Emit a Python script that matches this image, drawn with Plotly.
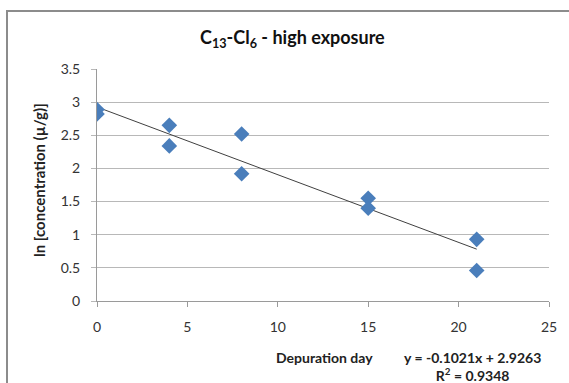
import plotly.graph_objects as go

# Depuration data: day vs ln concentration, two replicates per day
days = [0, 0, 4, 4, 8, 8, 15, 15, 21, 21]
ln_conc = [2.89, 2.82, 2.65, 2.34, 2.52, 1.92, 1.55, 1.40, 0.93, 0.46]

# Linear trendline reported on the chart
slope = -0.1021
intercept = 2.9263
r_squared = 0.9348
fit_days = [0, 21]
fit_vals = [intercept + slope * d for d in fit_days]

x_ticks = [0, 5, 10, 15, 20, 25]
y_ticks = [0, 0.5, 1, 1.5, 2, 2.5, 3, 3.5]
y_tick_text = ["0", "0.5", "1", "1.5", "2", "2.5", "3", "3.5"]

W, H = 569, 383
L, R, T, B = 97, 20, 69, 82
pw, ph = W - L - R, H - T - B

def px(x):
    return (x - L) / pw

def py(y):
    return (H - B - y) / ph

font_family = "Lato, 'Open Sans', Arial, sans-serif"

fig = go.Figure()
fig.add_trace(go.Scatter(
    x=fit_days, y=fit_vals, mode="lines",
    line=dict(color="#404040", width=1), showlegend=False, hoverinfo="skip"))
fig.add_trace(go.Scatter(
    x=days, y=ln_conc, mode="markers",
    marker=dict(symbol="diamond", size=12, color="#4A7EBB", line=dict(width=0)),
    showlegend=False))

def note(text, x, y, size=14, angle=0, color="#222222"):
    return dict(text=text, xref="paper", yref="paper", x=px(x), y=py(y),
                xanchor="center", yanchor="middle", textangle=angle,
                showarrow=False, font=dict(size=size, color=color))

eq_text = (f"<b>y = {slope:.4f}x + {intercept:.4f}</b><br>"
           f"<b>R<sup>2</sup> = {r_squared:.4f}</b>")

fig.update_layout(
    width=W, height=H,
    margin=dict(l=L, r=R, t=T, b=B),
    paper_bgcolor="white", plot_bgcolor="white",
    font=dict(family=font_family, size=14, color="#333333"),
    xaxis=dict(range=[0, 25], tickvals=x_ticks, showgrid=False, zeroline=False,
               showline=True, linecolor="#9a9a9a", linewidth=1,
               ticks="outside", ticklen=5, tickcolor="#9a9a9a",
               ticklabelstandoff=8, tickfont=dict(size=14, color="#333333")),
    yaxis=dict(range=[0, 3.5], tickvals=y_ticks, ticktext=y_tick_text,
               showgrid=True, gridcolor="#b8b8b8",
               gridwidth=1, zeroline=False, showline=True, linecolor="#9a9a9a",
               linewidth=1, ticks="outside", ticklen=5, tickcolor="#b8b8b8",
               ticklabelstandoff=8,
               tickfont=dict(size=14, color="#333333")),
    shapes=[dict(type="rect", xref="paper", yref="paper",
                 x0=px(7), x1=px(W + 10), y0=py(H + 10), y1=py(11),
                 line=dict(color="#8c8c8c", width=2), fillcolor="rgba(0,0,0,0)",
                 layer="below")],
    annotations=[
        note("<b>C<sub>13</sub>-Cl<sub>6</sub> - high exposure</b>", 292, 38,
             size=18, color="#111111"),
        note("<b>ln [concentration (µ/g)]</b>", 39, 180, size=15, angle=-90),
        note("<b>Depuration day</b>", 324, 357),
        note(eq_text, 472, 366),
    ],
)

fig.write_html("out.html")
